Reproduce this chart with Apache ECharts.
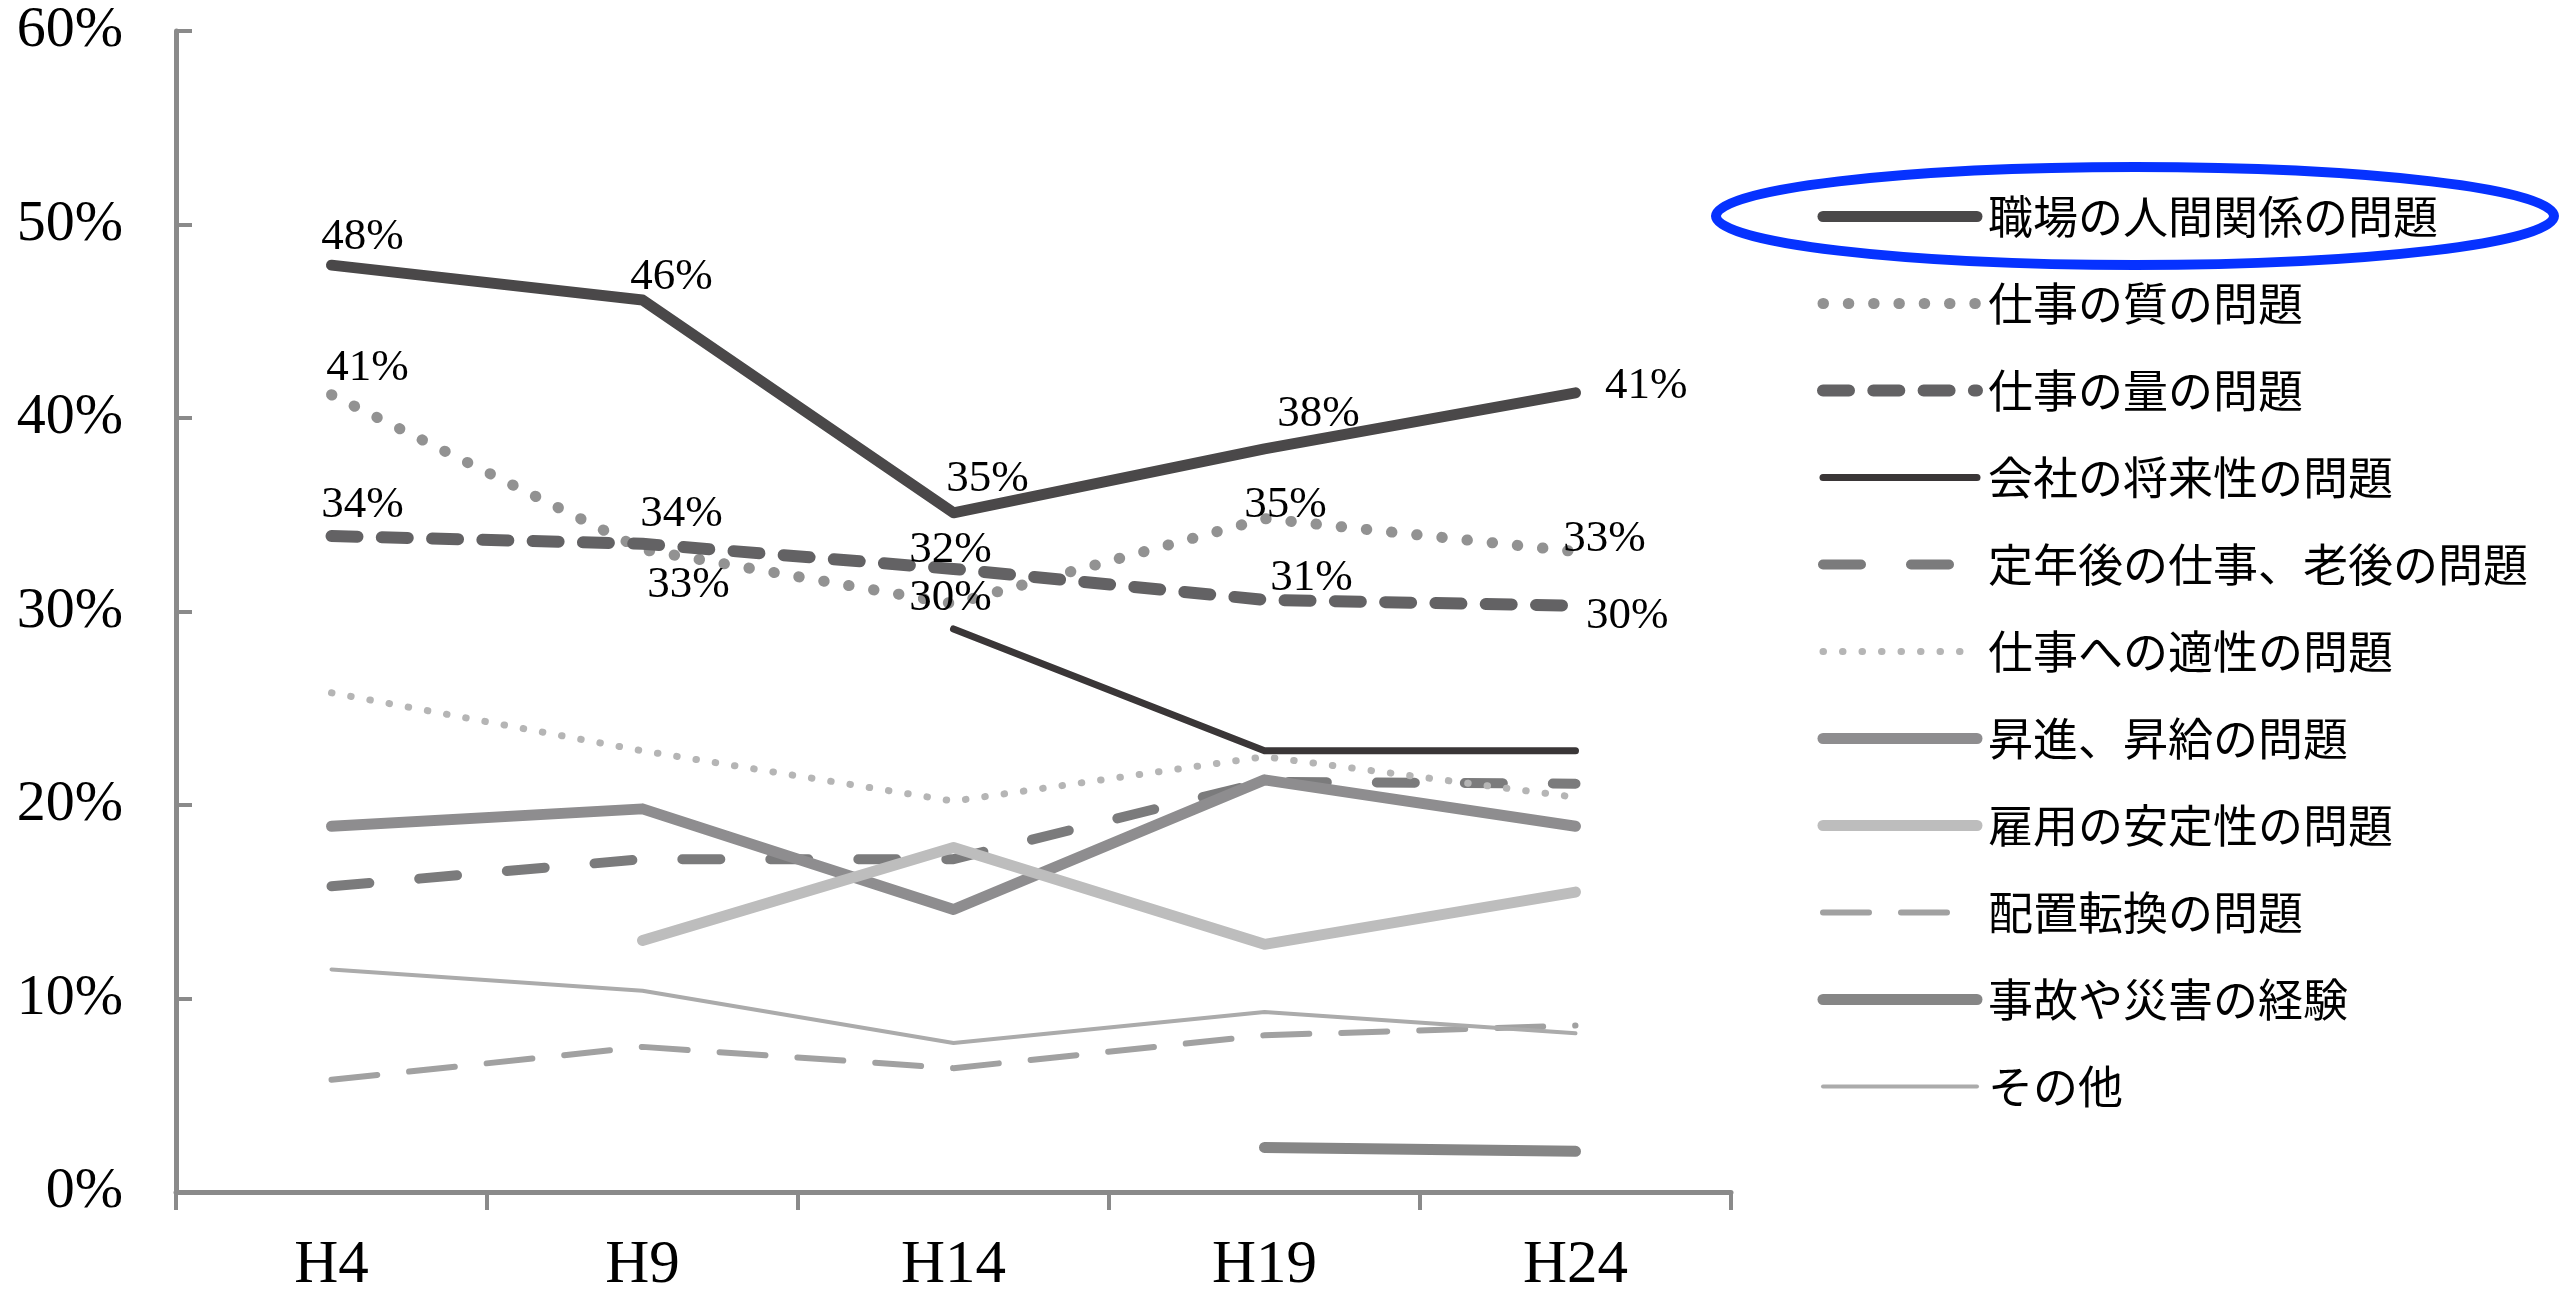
<!DOCTYPE html>
<html>
<head>
<meta charset="utf-8">
<script src="https://cdn.jsdelivr.net/npm/echarts@6/dist/echarts.min.js"></script>
<style>
  html, body { margin: 0; padding: 0; background: #ffffff; }
  #chart { width: 2561px; height: 1296px; }
</style>
</head>
<body>
<div id="chart"></div>
<script>
// Survey years (Heisei era)
const years = ['H4', 'H9', 'H14', 'H19', 'H24'];

// Share of respondents (%) citing each source of workplace stress
const ningenKankei = [47.9, 46.1, 35.1, 38.4, 41.3];   // 職場の人間関係の問題
const shigotoShitsu = [41.2, 33.2, 30.4, 34.8, 33.1];  // 仕事の質の問題
const shigotoRyou = [33.9, 33.5, 32.2, 30.6, 30.3];    // 仕事の量の問題
const shouraisei = [null, null, 29.1, 22.8, 22.8];     // 会社の将来性の問題
const teinengo = [15.8, 17.2, 17.2, 21.2, 21.1];       // 定年後の仕事、老後の問題
const tekisei = [25.8, 22.8, 20.2, 22.5, 20.4];        // 仕事への適性の問題
const shoushin = [18.9, 19.8, 14.6, 21.3, 18.9];       // 昇進、昇給の問題
const koyouAntei = [null, 13.0, 17.8, 12.8, 15.5];     // 雇用の安定性の問題
const haichiTenkan = [5.8, 7.5, 6.4, 8.1, 8.6];        // 配置転換の問題
const jikoSaigai = [null, null, null, 2.3, 2.1];       // 事故や災害の経験
const sonota = [11.5, 10.4, 7.7, 9.3, 8.2];            // その他

const seriesNames = [
  '職場の人間関係の問題', '仕事の質の問題', '仕事の量の問題', '会社の将来性の問題',
  '定年後の仕事、老後の問題', '仕事への適性の問題', '昇進、昇給の問題',
  '雇用の安定性の問題', '配置転換の問題', '事故や災害の経験', 'その他'
];

// Value-axis ticks
const yMin = 0, yMax = 60, yStep = 10;

// Line appearance per series: [color, width, dash]
const looks = [
  ['#4a4849', 11, 'solid'],
  ['#929292', 11, [0.5, 24.8]],
  ['#636264', 12, [26, 24.3]],
  ['#3a3637', 7, 'solid'],
  ['#7b7b7c', 10, [38, 50]],
  ['#b5b5b5', 7, [0.5, 19]],
  ['#8e8d8f', 11, 'solid'],
  ['#bdbdbd', 11, 'solid'],
  ['#a1a1a1', 6, [46, 32]],
  ['#868686', 11, 'solid'],
  ['#ababab', 4, 'solid']
];

// Where the value labels sit relative to each point (first three lines only)
const labelPlacement = [
  [['top', [31, 0]], ['top', [29, 5]], ['top', [34, -6]], ['top', [54, -7]], ['right', [24, -7]]],
  [['top', [36, 1]], ['bottom', [46, 8]], ['top', [-3, 22]], ['top', [21, 15]], ['top', [29, 16]]],
  [['top', [31, -3]], ['top', [39, -2]], ['top', [-3, 9]], ['top', [47, 6]], ['right', [5, 10]]]
];

const allValues = [ningenKankei, shigotoShitsu, shigotoRyou, shouraisei, teinengo, tekisei,
  shoushin, koyouAntei, haichiTenkan, jikoSaigai, sonota];

const numFont = '"Liberation Serif", "DejaVu Serif", serif';
const jpFont = '"Noto Sans CJK JP", "Noto Sans", sans-serif';
const axisGray = '#8a8a8a';

const series = allValues.map((vals, i) => {
  const [color, width, dash] = looks[i];
  const place = labelPlacement[i];
  return {
    name: seriesNames[i],
    type: 'line',
    symbol: 'circle',
    symbolSize: 1,
    showSymbol: true,
    connectNulls: false,
    silent: true,
    animation: false,
    itemStyle: { color: 'rgba(0,0,0,0)', borderWidth: 0 },
    lineStyle: { color: color, width: width, type: dash, cap: 'round', join: 'round' },
    data: vals.map((v, j) => {
      if (!place || v === null) return v;
      return {
        value: v,
        label: {
          show: true,
          position: place[j][0],
          offset: place[j][1],
          distance: 5,
          formatter: (p) => Math.round(p.value) + '%',
          color: '#000000',
          fontFamily: numFont,
          fontSize: 45
        }
      };
    })
  };
});

const chart = echarts.init(document.getElementById('chart'), null, { renderer: 'canvas' });
chart.setOption({
  backgroundColor: '#ffffff',
  animation: false,
  grid: { left: 176, top: 31, width: 1555, height: 1166, containLabel: false },
  xAxis: {
    type: 'category',
    data: years,
    boundaryGap: true,
    axisLine: { show: true, lineStyle: { color: axisGray, width: 5 } },
    axisTick: { show: true, inside: false, length: 18, alignWithLabel: false, lineStyle: { color: axisGray, width: 4 } },
    axisLabel: { margin: 43, color: '#000000', fontFamily: numFont, fontSize: 61 },
    splitLine: { show: false }
  },
  yAxis: {
    type: 'value',
    min: yMin,
    max: yMax,
    interval: yStep,
    axisLine: { show: true, lineStyle: { color: axisGray, width: 5 } },
    axisTick: { show: true, inside: true, length: 16, lineStyle: { color: axisGray, width: 4 } },
    axisLabel: { margin: 53, color: '#000000', fontFamily: numFont, fontSize: 58, formatter: '{value}%' },
    splitLine: { show: false }
  },
  legend: {
    orient: 'vertical',
    left: 1817,
    top: 194,
    padding: 0,
    itemWidth: 154,
    itemHeight: 16,
    itemGap: 42,
    selectedMode: false,
    lineStyle: { width: 'inherit', type: 'inherit', cap: 'inherit', color: 'inherit' },
    textStyle: { fontFamily: jpFont, fontSize: 45, lineHeight: 45, color: '#000000', padding: [0, 0, 0, 6] },
    data: seriesNames
  },
  graphic: [{
    type: 'ellipse',
    shape: { cx: 2135, cy: 216, rx: 419, ry: 49 },
    style: { fill: 'none', stroke: '#0632ff', lineWidth: 10 },
    z: 100
  }],
  series: series
});
</script>
</body>
</html>
